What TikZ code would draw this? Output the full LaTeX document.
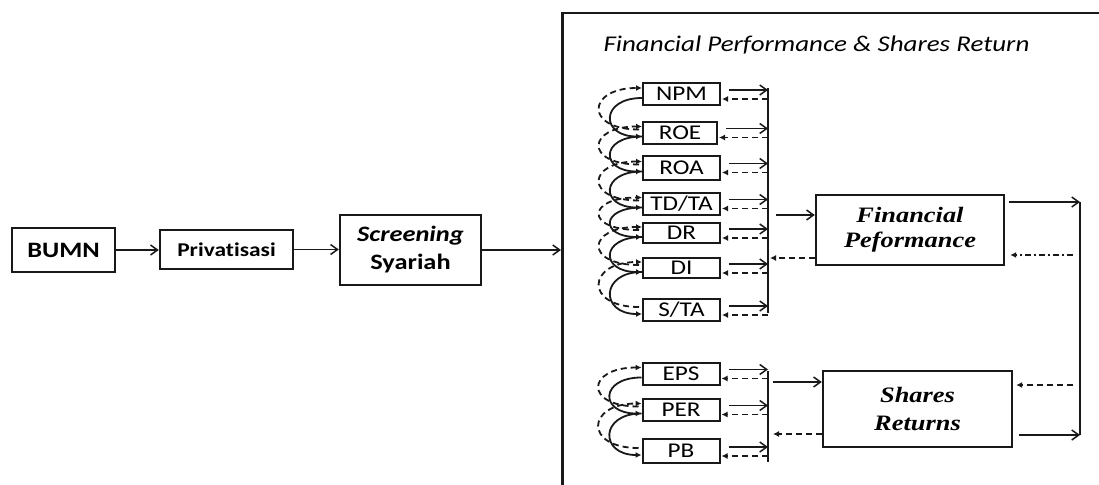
\documentclass[tikz,border=0pt]{standalone}
\usepackage{fontspec}
\setmainfont{Carlito}[FakeStretch=1.2, Ligatures=NoCommon]
\newfontfamily\tnr{Liberation Serif}[FakeStretch=1.2]
\usetikzlibrary{arrows.meta,calc}
\tikzset{
  box/.style={draw=black!90, line width=2.4pt, inner sep=0pt},
  sbox/.style={box, line width=2pt, minimum width=77pt, minimum height=22pt, font=\fontsize{21}{22}\selectfont, text height=13.5pt, text depth=0pt},
  sol/.style={draw=black!90, line width=1.8pt, -{Straight Barb[length=7pt,width=10pt,line width=1.5pt]}},
  soltip/.style={draw=black!90, line width=1.8pt, -{Latex[length=6pt,width=6pt]}},
  dsh/.style={draw=black!90, line width=1.8pt, dash pattern=on 6pt off 4pt, -{Latex[length=6pt,width=6pt]}},
  dshdot/.style={draw=black!90, line width=1.8pt, dash pattern=on 6pt off 3pt on 2pt off 3pt, -{Latex[length=6pt,width=6pt]}},
  bar/.style={draw=black!90, line width=2.5pt},
}
\begin{document}
\begin{tikzpicture}[x=1pt,y=-1pt]
\useasboundingbox (0,0) rectangle (1099,484);
\clip (0,0) rectangle (1099,484);
\fill[white] (0,0) rectangle (1099,484);

% outer frame
\node[box, line width=2.5pt, anchor=north west, minimum width=560pt, minimum height=490pt] (outer) at (561,12) {};
\node[anchor=base west, font=\itshape\fontsize{22.5}{26}\selectfont] (title) at (600,52) {Financial Performance \& Shares Return};

% left flow
\node[box, minimum width=103pt, minimum height=44pt, font=\bfseries\fontsize{22}{26}\selectfont] (bumn) at (63.5,250) {BUMN};
\node[box, minimum width=133pt, minimum height=39pt, font=\bfseries\fontsize{19.5}{24}\selectfont] (priv) at (226.5,249.5) {Privatisasi};
\node[box, minimum width=141pt, minimum height=70pt, align=center, font=\bfseries\fontsize{22}{28}\selectfont] (scr) at (410.5,250) {\textit{Screening}\\Syariah};
\draw[sol] (bumn.east) -- (bumn.east -| priv.west);
\draw[sol] (priv.east) -- (priv.east -| scr.west);
\draw[sol] (scr.east) -- (scr.east -| outer.west);

% indicator boxes
\node[sbox] (npm) at (681.5,94) {NPM};
\node[sbox, minimum width=74pt] (roe) at (680,132.5) {ROE};
\node[sbox, minimum height=24pt] (roa) at (681.5,167.5) {ROA};
\node[sbox] (tdta) at (681.5,203.5) {TD/TA};
\node[sbox, minimum height=20pt] (dr) at (681.5,233) {DR};
\node[sbox, minimum height=20pt] (di) at (681.5,268) {DI};
\node[sbox] (sta) at (681.5,310) {S/TA};
\node[sbox] (eps) at (681,373.5) {EPS};
\node[sbox] (per) at (681,409.5) {PER};
\node[sbox, minimum height=24pt] (pb) at (681,451) {PB};

% bars
\coordinate (bt) at (768,88);
\coordinate (bb) at (768,313);
\coordinate (lt) at (768,371);
\coordinate (lb) at (768,462);
\coordinate (rt) at (1080,202);
\coordinate (rb) at (1080,435);
\draw[bar] (bt) -- (bb);
\draw[bar] (lt) -- (lb);
\draw[bar] (rt) -- (rb);

% right side of indicator boxes
\foreach \n in {npm,roe,roa,tdta,dr,di,sta}{
  \draw[sol] ([xshift=8pt,yshift=4pt]\n.east) -- ([yshift=4pt]\n.east -| bt);
  \draw[dsh] ([yshift=-5pt]\n.east -| bt) -- ([xshift=1pt,yshift=-5pt]\n.east);
}
\foreach \n in {eps,per,pb}{
  \draw[sol] ([xshift=8pt,yshift=4pt]\n.east) -- ([yshift=4pt]\n.east -| lt);
  \draw[dsh] ([yshift=-5pt]\n.east -| lt) -- ([xshift=1pt,yshift=-5pt]\n.east);
}

% left curved links
\foreach \a/\b in {npm/roe,roe/roa,roa/tdta,tdta/dr,dr/di,di/sta,eps/per,per/pb}{
  \draw[dsh] ([xshift=-3pt,yshift=3pt]\b.west) .. controls +(-55,0) and +(-55,0) .. ([yshift=6pt]\a.west);
  \draw[soltip] ([yshift=-4pt]\a.west) .. controls +(-42,0) and +(-42,0) .. ([yshift=-4pt]\b.west);
}

% result boxes
\node[box, minimum width=188pt, minimum height=70pt, align=center, font=\tnr\bfseries\itshape\fontsize{22}{25}\selectfont] (fpb) at (910,230) {Financial\\Peformance};
\node[box, minimum width=189pt, minimum height=76pt, align=center, font=\tnr\bfseries\itshape\fontsize{22}{28}\selectfont] (srb) at (917.5,409) {Shares\\Returns};

\draw[sol] ($([yshift=15pt]fpb.west -| bt)+(8,0)$) -- ([yshift=15pt]fpb.west);
\draw[dsh] ([yshift=-28pt]fpb.west) -- ($([yshift=-28pt]fpb.west -| bt)+(2,0)$);
\draw[sol] ($([yshift=27pt]srb.west -| lt)+(5,0)$) -- ([yshift=27pt]srb.west);
\draw[dsh] ([yshift=-25pt]srb.west) -- ($([yshift=-25pt]srb.west -| lt)+(5,0)$);

\draw[sol] ([xshift=4pt,yshift=28pt]fpb.east) -- (rt);
\draw[dshdot] ($([yshift=-25pt]fpb.east -| rt)+(-7,0)$) -- ([xshift=5pt,yshift=-25pt]fpb.east);
\draw[sol] ([xshift=6pt,yshift=-26pt]srb.east) -- (rb);
\draw[dsh] ($([yshift=24pt]srb.east -| rt)+(-7,0)$) -- ([xshift=3pt,yshift=24pt]srb.east);
\end{tikzpicture}
\end{document}
